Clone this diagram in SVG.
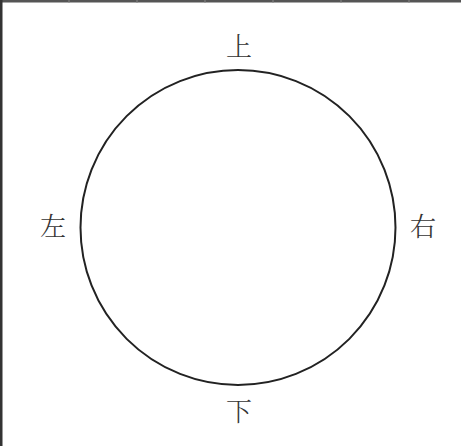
<svg xmlns="http://www.w3.org/2000/svg" width="461" height="446" viewBox="0 0 461 446">
<style>
.lbl{font-family:"Noto Serif CJK SC","Noto Sans CJK SC","Liberation Serif",serif;font-size:26px;fill:#333;text-anchor:middle;dominant-baseline:central;font-weight:300}
</style>
<rect width="461" height="446" fill="#fff"/>
<g id="frame">
<rect x="0" y="0" width="461" height="2.5" fill="#555"/>
<rect x="0" y="0" width="2.5" height="446" fill="#333"/>
<g stroke="#888" stroke-width="1">
<line x1="69" y1="0" x2="69" y2="3"/>
<line x1="137" y1="0" x2="137" y2="3"/>
<line x1="205" y1="0" x2="205" y2="3"/>
<line x1="273" y1="0" x2="273" y2="3"/>
<line x1="341" y1="0" x2="341" y2="3"/>
<line x1="409" y1="0" x2="409" y2="3"/>
</g>
</g>
<g id="circle">
<circle cx="238" cy="227.5" r="157.5" fill="none" stroke="#222" stroke-width="2"/>
</g>
<g id="connectors"></g>
<g id="top"><text class="lbl" x="239" y="44">上</text></g>
<g id="bottom"><text class="lbl" x="239" y="409">下</text></g>
<g id="left"><text class="lbl" x="53" y="224">左</text></g>
<g id="right"><text class="lbl" x="423" y="224">右</text></g>
</svg>
